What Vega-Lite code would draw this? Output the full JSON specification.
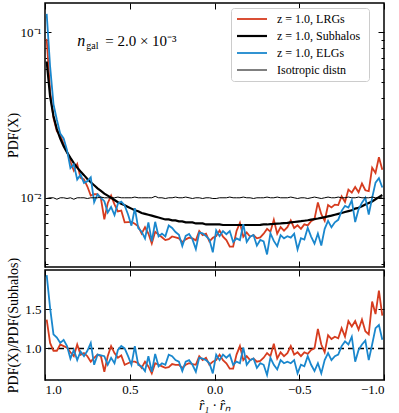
{
  "$schema": "https://vega.github.io/schema/vega-lite/v6.json",
  "padding": {"left": 5, "top": 1, "right": 0, "bottom": 0},
  "config": {
    "font": "Liberation Serif",
    "view": {"stroke": "black", "strokeWidth": 1.5},
    "axis": {"domain": false, "grid": false, "minExtent": 0, "tickColor": "black", "tickWidth": 1, "labelColor": "black", "titleColor": "black", "labelFont": "Liberation Serif", "titleFont": "Liberation Serif", "labelFontSize": 13, "titleFontSize": 14, "titleFontWeight": "normal", "tickSize": -5}
  },
  "datasets": {
    "pdf": [
      {"x": 0.99, "lrg": 0.0911, "sub": 0.0665, "elg": 0.1290, "iso": 0.0099, "rlrg": 1.37, "relg": 1.94},
      {"x": 0.97, "lrg": 0.0439, "sub": 0.0410, "elg": 0.0623, "iso": 0.0100, "rlrg": 1.07, "relg": 1.52},
      {"x": 0.95, "lrg": 0.0303, "sub": 0.0312, "elg": 0.0368, "iso": 0.0100, "rlrg": 0.97, "relg": 1.18},
      {"x": 0.93, "lrg": 0.0252, "sub": 0.0260, "elg": 0.0296, "iso": 0.0098, "rlrg": 0.97, "relg": 1.14},
      {"x": 0.91, "lrg": 0.0239, "sub": 0.0228, "elg": 0.0244, "iso": 0.0100, "rlrg": 1.05, "relg": 1.07},
      {"x": 0.89, "lrg": 0.0211, "sub": 0.0205, "elg": 0.0228, "iso": 0.0100, "rlrg": 1.03, "relg": 1.11},
      {"x": 0.87, "lrg": 0.0190, "sub": 0.0188, "elg": 0.0194, "iso": 0.0099, "rlrg": 1.01, "relg": 1.03},
      {"x": 0.85, "lrg": 0.0165, "sub": 0.0174, "elg": 0.0151, "iso": 0.0100, "rlrg": 0.95, "relg": 0.87},
      {"x": 0.83, "lrg": 0.0146, "sub": 0.0162, "elg": 0.0159, "iso": 0.0098, "rlrg": 0.90, "relg": 0.98},
      {"x": 0.81, "lrg": 0.0160, "sub": 0.0152, "elg": 0.0129, "iso": 0.0100, "rlrg": 1.05, "relg": 0.85},
      {"x": 0.79, "lrg": 0.0132, "sub": 0.0144, "elg": 0.0138, "iso": 0.0100, "rlrg": 0.92, "relg": 0.96},
      {"x": 0.77, "lrg": 0.0129, "sub": 0.0137, "elg": 0.0123, "iso": 0.0100, "rlrg": 0.94, "relg": 0.90},
      {"x": 0.75, "lrg": 0.0117, "sub": 0.0130, "elg": 0.0126, "iso": 0.0099, "rlrg": 0.90, "relg": 0.97},
      {"x": 0.73, "lrg": 0.0103, "sub": 0.0124, "elg": 0.0133, "iso": 0.0100, "rlrg": 0.83, "relg": 1.07},
      {"x": 0.71, "lrg": 0.0105, "sub": 0.0119, "elg": 0.0094, "iso": 0.0100, "rlrg": 0.88, "relg": 0.79},
      {"x": 0.69, "lrg": 0.0105, "sub": 0.0114, "elg": 0.0105, "iso": 0.0100, "rlrg": 0.92, "relg": 0.92},
      {"x": 0.67, "lrg": 0.0099, "sub": 0.0110, "elg": 0.0100, "iso": 0.0101, "rlrg": 0.90, "relg": 0.91},
      {"x": 0.65, "lrg": 0.00742, "sub": 0.0106, "elg": 0.00954, "iso": 0.0100, "rlrg": 0.70, "relg": 0.90},
      {"x": 0.63, "lrg": 0.00927, "sub": 0.0103, "elg": 0.00814, "iso": 0.0100, "rlrg": 0.90, "relg": 0.79},
      {"x": 0.61, "lrg": 0.0103, "sub": 0.0100, "elg": 0.0088, "iso": 0.0100, "rlrg": 1.03, "relg": 0.88},
      {"x": 0.59, "lrg": 0.00912, "sub": 0.0097, "elg": 0.00786, "iso": 0.0100, "rlrg": 0.94, "relg": 0.81},
      {"x": 0.57, "lrg": 0.00827, "sub": 0.0094, "elg": 0.00921, "iso": 0.0101, "rlrg": 0.88, "relg": 0.98},
      {"x": 0.55, "lrg": 0.00837, "sub": 0.0092, "elg": 0.00948, "iso": 0.0100, "rlrg": 0.91, "relg": 1.03},
      {"x": 0.53, "lrg": 0.00711, "sub": 0.0090, "elg": 0.0090, "iso": 0.0100, "rlrg": 0.79, "relg": 1.00},
      {"x": 0.51, "lrg": 0.00713, "sub": 0.0088, "elg": 0.00792, "iso": 0.0100, "rlrg": 0.81, "relg": 0.90},
      {"x": 0.49, "lrg": 0.00714, "sub": 0.0086, "elg": 0.00679, "iso": 0.0100, "rlrg": 0.83, "relg": 0.79},
      {"x": 0.47, "lrg": 0.00697, "sub": 0.0084, "elg": 0.00865, "iso": 0.0101, "rlrg": 0.83, "relg": 1.03},
      {"x": 0.45, "lrg": 0.00672, "sub": 0.0083, "elg": 0.00656, "iso": 0.0100, "rlrg": 0.81, "relg": 0.79},
      {"x": 0.43, "lrg": 0.00608, "sub": 0.0081, "elg": 0.00624, "iso": 0.0100, "rlrg": 0.75, "relg": 0.77},
      {"x": 0.41, "lrg": 0.00664, "sub": 0.0080, "elg": 0.00568, "iso": 0.0100, "rlrg": 0.83, "relg": 0.71},
      {"x": 0.39, "lrg": 0.00608, "sub": 0.0079, "elg": 0.00711, "iso": 0.0100, "rlrg": 0.77, "relg": 0.90},
      {"x": 0.37, "lrg": 0.00530, "sub": 0.0078, "elg": 0.00546, "iso": 0.0100, "rlrg": 0.68, "relg": 0.70},
      {"x": 0.35, "lrg": 0.00624, "sub": 0.0077, "elg": 0.00716, "iso": 0.0102, "rlrg": 0.81, "relg": 0.93},
      {"x": 0.33, "lrg": 0.00600, "sub": 0.0076, "elg": 0.00585, "iso": 0.0100, "rlrg": 0.79, "relg": 0.77},
      {"x": 0.31, "lrg": 0.00578, "sub": 0.0075, "elg": 0.00608, "iso": 0.0100, "rlrg": 0.77, "relg": 0.81},
      {"x": 0.29, "lrg": 0.00555, "sub": 0.0074, "elg": 0.00585, "iso": 0.0099, "rlrg": 0.75, "relg": 0.79},
      {"x": 0.27, "lrg": 0.00562, "sub": 0.0074, "elg": 0.00681, "iso": 0.0100, "rlrg": 0.76, "relg": 0.92},
      {"x": 0.25, "lrg": 0.00584, "sub": 0.0073, "elg": 0.00657, "iso": 0.0100, "rlrg": 0.80, "relg": 0.90},
      {"x": 0.23, "lrg": 0.00577, "sub": 0.0073, "elg": 0.00621, "iso": 0.0101, "rlrg": 0.79, "relg": 0.85},
      {"x": 0.21, "lrg": 0.00569, "sub": 0.0072, "elg": 0.00598, "iso": 0.0100, "rlrg": 0.79, "relg": 0.83},
      {"x": 0.19, "lrg": 0.00540, "sub": 0.0072, "elg": 0.00511, "iso": 0.0100, "rlrg": 0.75, "relg": 0.71},
      {"x": 0.17, "lrg": 0.00561, "sub": 0.0071, "elg": 0.00589, "iso": 0.0101, "rlrg": 0.79, "relg": 0.83},
      {"x": 0.15, "lrg": 0.00575, "sub": 0.0071, "elg": 0.00604, "iso": 0.0100, "rlrg": 0.81, "relg": 0.85},
      {"x": 0.13, "lrg": 0.00568, "sub": 0.0071, "elg": 0.00561, "iso": 0.0099, "rlrg": 0.80, "relg": 0.79},
      {"x": 0.11, "lrg": 0.00553, "sub": 0.0070, "elg": 0.00490, "iso": 0.0100, "rlrg": 0.79, "relg": 0.70},
      {"x": 0.09, "lrg": 0.00630, "sub": 0.0070, "elg": 0.00616, "iso": 0.0100, "rlrg": 0.90, "relg": 0.88},
      {"x": 0.07, "lrg": 0.00595, "sub": 0.0070, "elg": 0.00609, "iso": 0.0099, "rlrg": 0.85, "relg": 0.87},
      {"x": 0.05, "lrg": 0.00607, "sub": 0.0069, "elg": 0.00587, "iso": 0.0100, "rlrg": 0.88, "relg": 0.85},
      {"x": 0.03, "lrg": 0.00545, "sub": 0.0069, "elg": 0.00559, "iso": 0.0100, "rlrg": 0.79, "relg": 0.81},
      {"x": 0.01, "lrg": 0.00573, "sub": 0.0069, "elg": 0.00469, "iso": 0.0099, "rlrg": 0.83, "relg": 0.68},
      {"x": -0.01, "lrg": 0.00587, "sub": 0.0069, "elg": 0.00635, "iso": 0.0099, "rlrg": 0.85, "relg": 0.92},
      {"x": -0.03, "lrg": 0.00635, "sub": 0.0069, "elg": 0.00587, "iso": 0.0100, "rlrg": 0.92, "relg": 0.85},
      {"x": -0.05, "lrg": 0.00582, "sub": 0.00685, "elg": 0.00630, "iso": 0.0100, "rlrg": 0.85, "relg": 0.92},
      {"x": -0.07, "lrg": 0.00555, "sub": 0.00685, "elg": 0.00603, "iso": 0.0100, "rlrg": 0.81, "relg": 0.88},
      {"x": -0.09, "lrg": 0.00507, "sub": 0.00685, "elg": 0.00630, "iso": 0.0101, "rlrg": 0.74, "relg": 0.92},
      {"x": -0.11, "lrg": 0.00507, "sub": 0.00685, "elg": 0.00541, "iso": 0.0100, "rlrg": 0.74, "relg": 0.79},
      {"x": -0.13, "lrg": 0.00630, "sub": 0.00685, "elg": 0.00569, "iso": 0.0100, "rlrg": 0.92, "relg": 0.83},
      {"x": -0.15, "lrg": 0.00706, "sub": 0.00685, "elg": 0.00555, "iso": 0.0100, "rlrg": 1.03, "relg": 0.81},
      {"x": -0.17, "lrg": 0.00582, "sub": 0.00685, "elg": 0.00692, "iso": 0.0101, "rlrg": 0.85, "relg": 1.01},
      {"x": -0.19, "lrg": 0.00617, "sub": 0.00685, "elg": 0.00541, "iso": 0.0100, "rlrg": 0.90, "relg": 0.79},
      {"x": -0.21, "lrg": 0.00582, "sub": 0.00685, "elg": 0.00582, "iso": 0.0100, "rlrg": 0.85, "relg": 0.85},
      {"x": -0.23, "lrg": 0.00596, "sub": 0.00685, "elg": 0.00596, "iso": 0.0099, "rlrg": 0.87, "relg": 0.87},
      {"x": -0.25, "lrg": 0.00569, "sub": 0.00685, "elg": 0.00514, "iso": 0.0100, "rlrg": 0.83, "relg": 0.75},
      {"x": -0.27, "lrg": 0.00577, "sub": 0.00687, "elg": 0.00556, "iso": 0.0100, "rlrg": 0.84, "relg": 0.81},
      {"x": -0.29, "lrg": 0.00607, "sub": 0.0069, "elg": 0.00545, "iso": 0.0100, "rlrg": 0.88, "relg": 0.79},
      {"x": -0.31, "lrg": 0.00649, "sub": 0.0069, "elg": 0.00455, "iso": 0.0101, "rlrg": 0.94, "relg": 0.66},
      {"x": -0.33, "lrg": 0.00624, "sub": 0.00693, "elg": 0.00610, "iso": 0.0100, "rlrg": 0.90, "relg": 0.88},
      {"x": -0.35, "lrg": 0.00737, "sub": 0.00695, "elg": 0.00549, "iso": 0.0100, "rlrg": 1.06, "relg": 0.79},
      {"x": -0.37, "lrg": 0.00607, "sub": 0.00698, "elg": 0.00510, "iso": 0.0101, "rlrg": 0.87, "relg": 0.73},
      {"x": -0.39, "lrg": 0.00665, "sub": 0.0070, "elg": 0.00595, "iso": 0.0100, "rlrg": 0.95, "relg": 0.85},
      {"x": -0.41, "lrg": 0.00633, "sub": 0.00703, "elg": 0.00569, "iso": 0.0100, "rlrg": 0.90, "relg": 0.81},
      {"x": -0.43, "lrg": 0.00664, "sub": 0.00706, "elg": 0.00586, "iso": 0.0100, "rlrg": 0.94, "relg": 0.83},
      {"x": -0.45, "lrg": 0.00731, "sub": 0.0071, "elg": 0.00575, "iso": 0.0101, "rlrg": 1.03, "relg": 0.81},
      {"x": -0.47, "lrg": 0.00657, "sub": 0.00714, "elg": 0.00607, "iso": 0.0100, "rlrg": 0.92, "relg": 0.85},
      {"x": -0.49, "lrg": 0.00682, "sub": 0.00718, "elg": 0.00488, "iso": 0.0099, "rlrg": 0.95, "relg": 0.68},
      {"x": -0.51, "lrg": 0.00650, "sub": 0.00722, "elg": 0.00570, "iso": 0.0100, "rlrg": 0.90, "relg": 0.79},
      {"x": -0.53, "lrg": 0.00691, "sub": 0.00727, "elg": 0.00560, "iso": 0.0100, "rlrg": 0.95, "relg": 0.77},
      {"x": -0.55, "lrg": 0.00681, "sub": 0.00732, "elg": 0.00659, "iso": 0.0099, "rlrg": 0.93, "relg": 0.90},
      {"x": -0.57, "lrg": 0.00723, "sub": 0.00738, "elg": 0.00583, "iso": 0.0100, "rlrg": 0.98, "relg": 0.79},
      {"x": -0.59, "lrg": 0.00744, "sub": 0.00744, "elg": 0.00528, "iso": 0.0101, "rlrg": 1.00, "relg": 0.71},
      {"x": -0.61, "lrg": 0.00938, "sub": 0.0075, "elg": 0.00608, "iso": 0.0100, "rlrg": 1.25, "relg": 0.81},
      {"x": -0.63, "lrg": 0.00795, "sub": 0.00757, "elg": 0.00515, "iso": 0.0099, "rlrg": 1.05, "relg": 0.68},
      {"x": -0.65, "lrg": 0.00726, "sub": 0.00764, "elg": 0.00649, "iso": 0.0100, "rlrg": 0.95, "relg": 0.85},
      {"x": -0.67, "lrg": 0.00903, "sub": 0.00772, "elg": 0.00726, "iso": 0.0101, "rlrg": 1.17, "relg": 0.94},
      {"x": -0.69, "lrg": 0.00874, "sub": 0.0078, "elg": 0.00663, "iso": 0.0100, "rlrg": 1.12, "relg": 0.85},
      {"x": -0.71, "lrg": 0.00909, "sub": 0.0079, "elg": 0.00711, "iso": 0.0100, "rlrg": 1.15, "relg": 0.90},
      {"x": -0.73, "lrg": 0.00904, "sub": 0.0080, "elg": 0.00736, "iso": 0.0101, "rlrg": 1.13, "relg": 0.92},
      {"x": -0.75, "lrg": 0.01021, "sub": 0.0081, "elg": 0.00834, "iso": 0.0100, "rlrg": 1.26, "relg": 1.03},
      {"x": -0.77, "lrg": 0.00943, "sub": 0.0082, "elg": 0.00894, "iso": 0.0100, "rlrg": 1.15, "relg": 1.09},
      {"x": -0.79, "lrg": 0.01121, "sub": 0.0083, "elg": 0.00872, "iso": 0.0101, "rlrg": 1.35, "relg": 1.05},
      {"x": -0.81, "lrg": 0.01075, "sub": 0.0084, "elg": 0.00966, "iso": 0.0100, "rlrg": 1.28, "relg": 1.15},
      {"x": -0.83, "lrg": 0.01161, "sub": 0.0086, "elg": 0.00714, "iso": 0.0100, "rlrg": 1.35, "relg": 0.83},
      {"x": -0.85, "lrg": 0.01079, "sub": 0.0087, "elg": 0.00853, "iso": 0.0101, "rlrg": 1.24, "relg": 0.98},
      {"x": -0.87, "lrg": 0.01219, "sub": 0.0089, "elg": 0.00935, "iso": 0.0100, "rlrg": 1.37, "relg": 1.05},
      {"x": -0.89, "lrg": 0.01110, "sub": 0.0091, "elg": 0.01001, "iso": 0.0100, "rlrg": 1.22, "relg": 1.10},
      {"x": -0.91, "lrg": 0.01097, "sub": 0.0093, "elg": 0.00791, "iso": 0.0100, "rlrg": 1.18, "relg": 0.85},
      {"x": -0.93, "lrg": 0.01520, "sub": 0.0095, "elg": 0.00998, "iso": 0.0101, "rlrg": 1.60, "relg": 1.05},
      {"x": -0.95, "lrg": 0.01411, "sub": 0.0098, "elg": 0.01235, "iso": 0.0100, "rlrg": 1.44, "relg": 1.26},
      {"x": -0.97, "lrg": 0.01757, "sub": 0.0101, "elg": 0.01313, "iso": 0.0100, "rlrg": 1.74, "relg": 1.30},
      {"x": -0.99, "lrg": 0.01477, "sub": 0.0104, "elg": 0.01154, "iso": 0.0100, "rlrg": 1.42, "relg": 1.11}
    ]
  },
  "data": {"name": "pdf"},
  "spacing": 3,
  "bounds": "flush",
  "resolve": {"scale": {"color": "independent"}, "legend": {"color": "independent"}},
  "vconcat": [
    {
      "width": 339,
      "height": 264,
      "resolve": {"axis": {"x": "independent", "y": "independent"}},
      "layer": [
        {
          "transform": [{"fold": ["lrg", "sub", "elg", "iso"], "as": ["series", "value"]}],
          "mark": {"type": "line"},
          "encoding": {
            "x": {"field": "x", "type": "quantitative", "scale": {"domain": [-1, 1], "reverse": true, "nice": false, "zero": false}, "axis": {"orient": "bottom", "values": [1, 0.5, 0, -0.5, -1], "labels": false, "title": null, "tickSize": -6}},
            "y": {"field": "value", "type": "quantitative", "scale": {"type": "log", "domain": [0.00382, 0.150], "nice": false}, "axis": {"orient": "left", "title": "PDF(X)", "values": [0.004, 0.005, 0.006, 0.007, 0.008, 0.009, 0.01, 0.02, 0.03, 0.04, 0.05, 0.06, 0.07, 0.08, 0.09, 0.1], "labelExpr": "datum.value == 0.1 ? '10⁻¹' : (datum.value == 0.01 ? '10⁻²' : '')", "tickSize": {"condition": {"test": "datum.value == 0.1 || datum.value == 0.01", "value": -6}, "value": -3}, "labelPadding": 10, "titlePadding": 0}},
            "color": {"field": "series", "type": "nominal", "scale": {"domain": ["lrg", "sub", "elg", "iso"], "range": ["#d63c1f", "#000000", "#1a87cd", "#000000"]}, "legend": {"title": null, "orient": "none", "legendX": 186, "legendY": 5, "labelExpr": "datum.value == 'lrg' ? 'z = 1.0,  LRGs' : (datum.value == 'sub' ? 'z = 1.0,  Subhalos' : (datum.value == 'elg' ? 'z = 1.0,  ELGs' : 'Isotropic distn'))", "symbolType": "M-1,0H5", "symbolSize": 100, "labelFont": "Liberation Serif", "labelFontSize": 12, "labelColor": "black", "strokeColor": "#cccccc", "fillColor": "#ffffff", "cornerRadius": 3, "padding": 5, "rowPadding": 5, "labelOffset": 29, "encode": {"symbols": {"update": {"strokeWidth": {"signal": "datum.value == 'iso' ? 1 : (datum.value == 'sub' ? 2.2 : 1.8)"}}}}}},
            "strokeWidth": {"condition": [{"test": "datum.series == 'iso'", "value": 1}, {"test": "datum.series == 'sub'", "value": 2.2}], "value": 1.8}
          }
        },
        {
          "mark": {"type": "point", "opacity": 0},
          "encoding": {
            "x": {"field": "x", "type": "quantitative", "scale": {"domain": [-1, 1], "reverse": true, "nice": false, "zero": false}, "axis": {"orient": "top", "values": [1, 0.5, 0, -0.5, -1], "labels": false, "title": null, "tickSize": -6}},
            "y": {"field": "iso", "type": "quantitative", "scale": {"type": "log", "domain": [0.00382, 0.150], "nice": false}, "axis": {"orient": "right", "title": null, "labels": false, "values": [0.004, 0.005, 0.006, 0.007, 0.008, 0.009, 0.01, 0.02, 0.03, 0.04, 0.05, 0.06, 0.07, 0.08, 0.09, 0.1], "tickSize": {"condition": {"test": "datum.value == 0.1 || datum.value == 0.01", "value": -6}, "value": -3}}}
          }
        },
        {
          "data": {"values": [{}]},
          "mark": {"type": "text", "text": "n", "fontStyle": "italic", "fontSize": 16, "align": "left", "baseline": "alphabetic", "font": "Liberation Serif"},
          "encoding": {"x": {"datum": 0.81, "axis": null}, "y": {"datum": 0.082, "axis": null}}
        },
        {
          "data": {"values": [{}]},
          "mark": {"type": "text", "text": "gal", "fontSize": 10, "align": "left", "baseline": "alphabetic", "dx": 9, "dy": 3, "font": "Liberation Serif"},
          "encoding": {"x": {"datum": 0.81, "axis": null}, "y": {"datum": 0.082, "axis": null}}
        },
        {
          "data": {"values": [{}]},
          "mark": {"type": "text", "text": "= 2.0 × 10⁻³", "fontSize": 15, "align": "left", "baseline": "alphabetic", "dx": 28, "font": "Liberation Serif"},
          "encoding": {"x": {"datum": 0.81, "axis": null}, "y": {"datum": 0.082, "axis": null}}
        }
      ]
    },
    {
      "width": 339,
      "height": 110,
      "resolve": {"axis": {"x": "independent", "y": "independent"}},
      "layer": [
        {
          "data": {"values": [{}]},
          "mark": {"type": "rule", "color": "black", "strokeWidth": 1.5, "strokeDash": [6, 4]},
          "encoding": {"y": {"datum": 1, "axis": null}}
        },
        {
          "mark": {"type": "line", "color": "#d63c1f", "strokeWidth": 1.8},
          "encoding": {
            "x": {"field": "x", "type": "quantitative", "scale": {"domain": [-1, 1], "reverse": true, "nice": false, "zero": false}, "axis": {"orient": "bottom", "values": [1, 0.5, 0, -0.5, -1], "format": ".1f", "title": "r̂₁ · r̂ₙ", "titleFontStyle": "italic", "tickSize": -6, "labelPadding": 9, "titlePadding": 2}},
            "y": {"field": "rlrg", "type": "quantitative", "scale": {"domain": [0.595, 2.005], "nice": false, "zero": false}, "axis": {"orient": "left", "values": [1.0, 1.5], "format": ".1f", "title": "PDF(X)/PDF(Subhalos)", "tickSize": -6, "labelPadding": 10, "titlePadding": 4}}
          }
        },
        {
          "mark": {"type": "line", "color": "#1a87cd", "strokeWidth": 1.8},
          "encoding": {
            "x": {"field": "x", "type": "quantitative", "scale": {"domain": [-1, 1], "reverse": true, "nice": false, "zero": false}, "axis": {"orient": "top", "values": [1, 0.5, 0, -0.5, -1], "labels": false, "title": null, "tickSize": -6}},
            "y": {"field": "relg", "type": "quantitative", "scale": {"domain": [0.595, 2.005], "nice": false, "zero": false}, "axis": {"orient": "right", "values": [1.0, 1.5], "labels": false, "title": null, "tickSize": -6}}
          }
        }
      ]
    }
  ]
}
